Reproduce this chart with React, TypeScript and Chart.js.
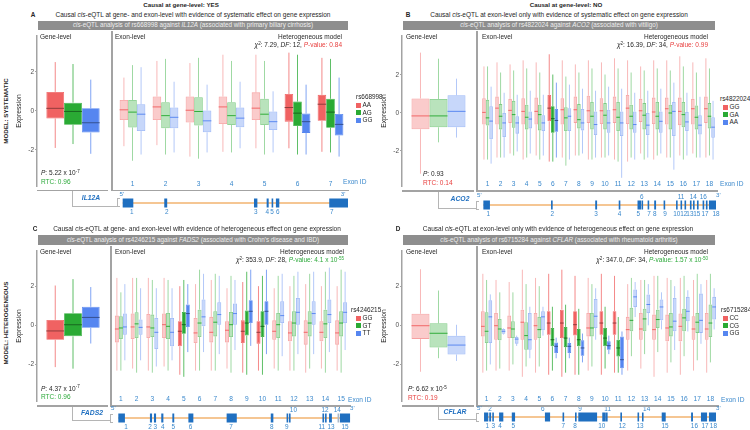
import React, { useEffect, useRef } from "react";
import { Chart, registerables } from "chart.js";
Chart.register(...registerables);

const FONT = '"Liberation Sans", Arial, Helvetica, sans-serif';
Chart.defaults.font.family = FONT;

// ---------------- DATA ----------------
// five-number summaries per box: [whiskerLow, q1, median, q3, whiskerHigh]
const Y_TICKS = [-2, 0, 2];

const A_GENOTYPES = ["AA", "AG", "GG"];
const A_EXONS = ["1", "2", "3", "4", "5", "6", "7"];
const A_SIG_EXONS = ["6", "7"];
const A_GENE = [
  [-1.9, -0.39, 0.13, 0.97, 2.5],
  [-1.7, -0.71, -0.03, 0.42, 2.4],
  [-2.2, -1.11, -0.61, 0.13, 1.6],
];
const A_EXON_AA = [
  [-1.7, -0.44, 0.05, 0.52, 1.6], [-1.65, -0.44, 0.19, 0.69, 2.4], [-2.2, -0.56, 0.03, 0.69, 2.3],
  [-1.97, -0.63, 0.19, 0.69, 2.7], [-1.8, -0.44, 0.13, 0.89, 2.7], [-1.8, -0.52, 0.16, 0.81, 2.8],
  [-1.97, -0.48, 0.32, 0.77, 2.55],
];
const A_EXON_AG = [
  [-2.4, -0.8, -0.06, 0.52, 2.2], [-2.1, -0.84, -0.23, 0.42, 2.5], [-2.3, -0.71, -0.03, 0.66, 2.55],
  [-2.0, -0.68, -0.23, 0.42, 2.4], [-2.1, -0.68, -0.16, 0.58, 2.4], [-2.1, -0.73, -0.11, 0.45, 2.7],
  [-2.0, -0.81, -0.06, 0.58, 2.5],
];
const A_EXON_GG = [
  [-2.1, -0.97, -0.16, 0.32, 2.1], [-2.0, -0.84, -0.31, 0.16, 1.4], [-2.0, -1.03, -0.48, 0.02, 1.26],
  [-1.8, -0.79, -0.35, 0.16, 1.4], [-2.0, -0.92, -0.52, -0.03, 0.94], [-2.1, -1.06, -0.52, -0.13, 1.26],
  [-2.2, -1.19, -0.65, -0.15, 1.6],
];

const B_GENOTYPES = ["GG", "GA", "AA"];
const B_EXONS = ["1", "2", "3", "4", "5", "6", "7", "8", "9", "10", "11", "12", "13", "14", "15", "16", "17", "18"];
const B_SIG_EXONS = ["6"];
const B_GENE = [
  [-3.2, -0.86, -0.16, 0.76, 3.17],
  [-1.55, -0.76, -0.16, 0.73, 2.85],
  [-1.3, -0.76, 0.08, 0.93, 1.8],
];
const B_EXON_GG = [
  [-2.3, -0.57, 0.03, 0.73, 2.3], [-2.2, -0.57, 0.24, 0.81, 2.5], [-2.0, -0.49, 0.13, 0.7, 2.4],
  [-2.3, -0.57, 0.08, 0.73, 2.6], [-2.1, -0.57, 0.08, 0.76, 2.5], [-2.4, -0.41, 0.24, 0.89, 2.9],
  [-2.2, -0.57, 0.16, 0.73, 2.6], [-2.1, -0.49, 0.16, 0.81, 2.4], [-2.3, -0.49, 0.11, 0.85, 2.6],
  [-2.2, -0.54, 0.11, 0.73, 2.5], [-2.3, -0.49, 0.16, 0.81, 2.7], [-2.4, -0.54, 0.24, 0.89, 2.6],
  [-2.0, -0.44, 0.11, 0.7, 2.3], [-2.3, -0.54, 0.05, 0.76, 2.6], [-2.2, -0.57, 0.21, 0.76, 2.6],
  [-2.1, -0.6, 0.08, 0.76, 2.8], [-2.0, -0.57, 0.21, 0.7, 2.5], [-2.2, -0.49, 0.21, 0.81, 2.7],
];
const B_EXON_GA = [
  [-2.3, -0.62, -0.24, 0.65, 2.3], [-2.2, -0.81, -0.16, 0.44, 2.0], [-2.1, -0.73, -0.08, 0.6, 2.1],
  [-2.2, -0.81, -0.21, 0.41, 2.2], [-2.3, -0.86, -0.08, 0.41, 2.0], [-2.4, -0.98, -0.28, 0.33, 1.9],
  [-2.6, -0.89, -0.24, 0.29, 1.8], [-2.1, -0.76, -0.33, 0.44, 2.0], [-2.3, -0.81, -0.16, 0.54, 2.2],
  [-2.2, -0.81, -0.11, 0.49, 1.9], [-2.4, -0.89, -0.21, 0.54, 2.2], [-2.2, -0.81, -0.16, 0.41, 2.0],
  [-2.3, -0.81, -0.11, 0.49, 2.1], [-2.1, -0.81, -0.16, 0.54, 2.2], [-2.2, -0.81, 0.0, 0.41, 2.1],
  [-2.3, -0.7, -0.08, 0.54, 2.3], [-2.2, -0.81, -0.21, 0.37, 2.0], [-2.1, -0.76, -0.16, 0.49, 2.2],
];
const B_EXON_AA = [
  [-2.5, -1.3, -0.4, 0.33, 1.3], [-2.2, -1.19, -0.49, 0.0, 1.0], [-1.9, -1.02, -0.49, -0.16, 0.9],
  [-2.0, -0.76, -0.3, 0.08, 1.1], [-2.1, -0.89, -0.49, -0.11, 0.9], [-2.2, -0.93, -0.37, 0.2, 1.5],
  [-2.3, -0.89, -0.16, 0.24, 1.4], [-2.0, -0.86, -0.49, 0.2, 1.2], [-2.2, -1.09, -0.57, 0.08, 1.1],
  [-2.1, -0.98, -0.49, 0.16, 1.3], [-3.2, -1.14, -0.49, 0.08, 1.2], [-2.3, -0.98, -0.57, 0.08, 1.0],
  [-2.2, -1.09, -0.6, 0.0, 1.1], [-2.0, -0.98, -0.41, 0.08, 1.2], [-2.8, -1.14, 0.08, 0.54, 1.5],
  [-2.1, -0.89, -0.44, 0.05, 1.0], [-2.2, -1.06, -0.6, -0.11, 0.8], [-2.3, -1.22, -0.7, -0.21, 0.6],
];

const C_GENOTYPES = ["GG", "GT", "TT"];
const C_EXONS = ["1", "2", "3", "4", "5", "6", "7", "8", "9", "10", "11", "12", "13", "14", "15"];
const C_SIG_EXONS = ["5", "9", "10"];
const C_GENE = [
  [-2.16, -0.75, -0.29, 0.28, 2.06],
  [-2.24, -0.57, 0.03, 0.63, 2.39],
  [-0.94, -0.13, 0.41, 0.96, 1.98],
];
const C_EXON_GG = [
  [-2.2, -0.83, -0.18, 0.47, 2.3], [-2.1, -0.67, -0.08, 0.57, 2.3], [-2.2, -0.62, -0.08, 0.55, 2.3],
  [-2.0, -0.62, 0.03, 0.57, 2.3], [-2.4, -1.02, -0.29, 0.2, 1.9], [-2.2, -0.86, -0.37, 0.36, 2.0],
  [-2.2, -0.83, -0.34, 0.41, 2.2], [-2.1, -0.83, -0.24, 0.2, 1.8], [-2.3, -0.86, -0.29, 0.24, 2.1],
  [-2.2, -0.89, -0.34, 0.2, 1.9], [-2.1, -0.7, -0.29, 0.24, 1.8], [-2.2, -0.78, -0.37, 0.2, 1.9],
  [-2.3, -0.94, -0.34, 0.24, 2.0], [-2.1, -0.78, -0.34, 0.2, 1.9], [-2.2, -0.94, -0.37, 0.24, 1.9],
];
const C_EXON_GT = [
  [-2.2, -0.67, -0.13, 0.44, 1.6], [-2.3, -0.62, 0.07, 0.63, 2.3], [-2.3, -0.57, -0.13, 0.52, 2.2],
  [-2.2, -0.67, -0.05, 0.6, 2.2], [-2.5, -0.41, 0.03, 0.65, 2.2], [-2.2, -0.57, 0.11, 0.76, 2.7],
  [-2.2, -0.54, 0.15, 0.68, 2.5], [-2.3, -0.57, 0.03, 0.65, 2.4], [-2.4, -0.5, 0.11, 0.72, 2.6],
  [-2.4, -0.57, -0.05, 0.68, 2.4], [-2.2, -0.62, 0.03, 0.6, 2.4], [-2.2, -0.54, 0.11, 0.68, 2.4],
  [-2.1, -0.54, 0.11, 0.68, 2.5], [-2.3, -0.62, 0.07, 0.76, 2.6], [-2.3, -0.54, 0.11, 0.68, 2.7],
];
const C_EXON_TT = [
  [-1.7, -0.46, -0.08, 0.57, 2.0], [-1.7, -0.46, -0.1, 0.28, 1.8], [-2.0, -1.15, -0.34, 0.36, 1.8],
  [-1.7, -1.02, -0.34, 0.36, 1.8], [-1.3, -0.08, 0.57, 1.01, 2.0], [-1.3, -0.05, 0.41, 1.25, 2.5],
  [-1.4, 0.03, 0.52, 1.12, 2.4], [-1.2, 0.03, 0.57, 1.06, 2.2], [-1.0, 0.11, 0.68, 1.22, 2.7],
  [-1.4, 0.03, 0.68, 1.17, 2.7], [-1.5, 0.11, 0.47, 1.17, 2.5], [-1.4, 0.03, 0.63, 1.33, 2.6],
  [-1.4, 0.03, 0.57, 1.17, 2.6], [-1.3, 0.11, 0.52, 1.25, 2.8], [-1.2, 0.11, 0.63, 1.12, 2.6],
];

const D_GENOTYPES = ["CC", "CG", "GG"];
const D_EXONS = ["1", "2", "3", "4", "5", "6", "7", "8", "9", "10", "11", "12", "13", "14", "15", "16", "17", "18"];
const D_SIG_EXONS = ["6", "7", "8", "10", "11"];
const D_GENE = [
  [-2.4, -0.7, -0.02, 0.6, 2.9],
  [-1.7, -1.15, -0.41, 0.11, 1.8],
  [-1.84, -1.51, -1.02, -0.54, 0.03],
];
const D_EXON_CC = [
  [-2.3, -0.54, -0.05, 0.68, 2.5], [-2.2, -0.7, -0.02, 0.6, 2.2], [-2.2, -0.62, -0.13, 0.47, 2.1],
  [-2.5, -0.7, 0.15, 0.76, 2.7], [-2.3, -0.7, -0.02, 0.6, 2.3], [-2.4, -0.46, 0.11, 0.68, 2.5],
  [-2.5, -0.62, 0.11, 0.76, 2.7], [-2.4, -0.5, 0.03, 0.68, 2.4], [-2.2, -0.54, -0.13, 0.6, 2.3],
  [-2.4, -0.46, 0.11, 0.68, 2.5], [-2.3, -0.46, 0.11, 0.68, 2.4], [-2.2, -0.7, -0.21, 0.41, 2.0],
  [-2.1, -0.7, -0.18, 0.6, 2.2], [-2.5, -0.7, -0.21, 0.52, 2.4], [-2.3, -0.78, -0.13, 0.52, 2.3],
  [-2.4, -0.78, -0.05, 0.57, 2.3], [-2.2, -0.7, -0.18, 0.44, 2.2], [-2.3, -0.7, -0.18, 0.6, 2.2],
];
const D_EXON_CG = [
  [-2.2, -0.86, -0.29, 0.63, 2.2], [-2.1, -0.73, -0.18, 0.31, 1.6], [-1.9, -0.62, -0.18, 0.2, 1.6],
  [-2.0, -1.19, -0.5, 0.15, 2.0], [-2.0, -0.62, -0.21, 0.41, 1.9], [-2.2, -1.02, -0.7, -0.13, 0.9],
  [-2.3, -1.06, -0.62, -0.08, 1.0], [-2.4, -1.02, -0.7, -0.18, 0.8], [-2.0, -0.54, -0.13, 0.6, 2.0],
  [-2.1, -1.02, -0.62, -0.13, 0.9], [-2.3, -1.51, -1.1, -0.7, 0.4], [-1.5, -0.29, 0.24, 0.85, 2.3],
  [-1.4, -0.29, 0.31, 0.8, 2.2], [-1.3, -0.13, 0.28, 0.76, 2.4], [-1.8, -0.54, -0.08, 0.6, 2.2],
  [-1.5, -0.29, 0.36, 0.8, 2.4], [-1.7, -0.37, 0.15, 0.6, 2.5], [-1.8, -0.57, 0.11, 1.01, 2.5],
];
const D_EXON_GG = [
  [-1.9, -0.86, 0.41, 1.22, 1.5], [-0.45, -0.41, -0.29, -0.18, -0.15], [-1.0, -0.89, -0.67, -0.57, -0.5],
  [-1.6, -1.19, -0.7, 0.6, 0.9], [-0.5, -0.24, 0.41, 0.68, 0.9], [-1.6, -1.35, -1.02, -0.83, -0.6],
  [-1.6, -1.35, -1.02, -0.86, -0.6], [-1.8, -1.48, -1.1, -0.73, -0.4], [-0.7, -0.13, 0.44, 1.28, 1.8],
  [-1.4, -1.19, -0.99, -0.78, -0.5], [-2.4, -2.08, -1.67, -0.54, -0.3], [0.4, 0.89, 1.38, 1.74, 2.1],
  [0.0, 0.6, 1.01, 1.5, 2.0], [-0.2, 0.24, 0.89, 1.25, 1.6], [-1.2, -0.29, 0.2, 1.33, 1.9],
  [-0.3, 0.2, 0.68, 1.38, 1.7], [-0.9, -0.37, 0.24, 1.54, 2.0], [-0.2, 0.28, 0.89, 1.38, 1.8],
];

// gene structures (relative genomic position, 0-100 along the gene)
const IL12A_START = [0.3, 18.7, 58.4, 64.0, 66.2, 68.1, 91.7];
const IL12A_END = [5.0, 20.0, 59.9, 64.9, 66.9, 69.6, 100];
const IL12A_LABEL_POS = [4.3, 19.8, 59.2, 64.3, 66.4, 68.9, 92.8];
const IL12A_LABEL_ABOVE: number[] = [];

const ACO2_START = [1.0, 29.8, 48.6, 58.6, 66.6, 68.3, 70.9, 73.7, 77.7, 83.0, 84.9, 86.6, 88.9, 90.2, 91.9, 94.3, 95.7, 97.0];
const ACO2_END = [3.8, 30.5, 49.4, 59.3, 68.1, 68.9, 71.5, 74.5, 78.3, 83.6, 85.5, 87.2, 89.6, 90.9, 92.6, 94.9, 96.4, 100];
const ACO2_LABEL_POS = [3.1, 30.3, 48.9, 58.9, 66.9, 68.4, 71.5, 74.0, 78.3, 83.3, 85.1, 86.3, 88.9, 90.3, 91.8, 94.6, 95.3, 100];
const ACO2_LABEL_ABOVE = [6, 11, 14, 16];

const FADS2_START = [1.4, 14.8, 16.5, 19.6, 24.3, 31.1, 47.3, 66.0, 72.7, 73.7, 87.9, 89.0, 90.7, 94.3, 95.3];
const FADS2_END = [4.2, 15.7, 17.4, 20.5, 25.1, 33.2, 51.6, 67.1, 73.3, 74.4, 88.6, 89.6, 91.9, 94.9, 99.6];
const FADS2_LABEL_POS = [4.7, 14.8, 17.1, 20.2, 24.7, 32.0, 49.2, 66.4, 72.8, 75.6, 87.6, 89.0, 91.5, 94.2, 97.5];
const FADS2_LABEL_ABOVE = [10, 12, 14];
const FADS2_GRAY = [14];

const CFLAR_START = [1.3, 3.5, 4.8, 7.7, 13.1, 27.2, 34.7, 40.0, 41.4, 51.6, 53.2, 59.3, 66.6, 68.5, 76.9, 89.4, 93.6, 97.0];
const CFLAR_END = [3.1, 4.3, 5.4, 9.5, 14.5, 29.4, 35.3, 40.7, 49.4, 53.1, 53.8, 60.0, 67.2, 69.1, 78.6, 90.2, 96.2, 100];
const CFLAR_LABEL_POS = [2.7, 3.8, 5.2, 8.1, 13.7, 26.3, 35.0, 40.0, 42.1, 51.4, 53.9, 60.1, 67.7, 70.5, 78.3, 90.8, 95.3, 98.9];
const CFLAR_LABEL_ABOVE = [2, 6, 9, 11, 14];

// ---------------- STYLE ----------------
const GENO_RGB = [
  [240, 98, 98],
  [42, 170, 52],
  [86, 134, 240],
];
const rgba = (c: number[], a: number) => `rgba(${c[0]},${c[1]},${c[2]},${a})`;
const dark = (c: number[]) => `rgb(${Math.round(c[0] * 0.6)},${Math.round(c[1] * 0.6)},${Math.round(c[2] * 0.6)})`;
const SOLID = GENO_RGB.map((c) => rgba(c, 1));
const EXON_BLUE = "#1f6fc0";
const LABEL_BLUE = "#3a88cc";
const AXIS_GRAY = "#a3a3a3";
const TXT = "#262626";
const RED_TXT = "#e8403f";
const GREEN_TXT = "#2eaa3c";

function boxDatasets(stats: number[][][], sig: boolean[]) {
  return stats.map((arr, g) => {
    const c = GENO_RGB[g];
    return {
      label: String(g),
      data: arr.map((s) => [s[1], s[3]]),
      stats: arr,
      backgroundColor: arr.map((_, i) => (sig[i] ? rgba(c, 1) : rgba(c, 0.33))),
      borderColor: arr.map((_, i) => (sig[i] ? rgba(c, 1) : rgba(c, 0.6))),
      borderWidth: 0.8,
      borderSkipped: false,
      whiskerColor: arr.map((_, i) => (sig[i] ? rgba(c, 0.75) : rgba(c, 0.45))),
      medianColor: arr.map((_, i) => (sig[i] ? dark(c) : rgba(c, 0.95))),
    };
  });
}

const boxExtras = {
  id: "boxExtras",
  beforeDatasetsDraw(chart: any) {
    const ctx = chart.ctx;
    const ys = chart.scales.y;
    chart.data.datasets.forEach((ds: any, di: number) => {
      const meta = chart.getDatasetMeta(di);
      meta.data.forEach((el: any, i: number) => {
        const s = ds.stats[i];
        ctx.save();
        ctx.strokeStyle = ds.whiskerColor[i];
        ctx.lineWidth = 1;
        ctx.beginPath();
        ctx.moveTo(el.x, ys.getPixelForValue(s[4]));
        ctx.lineTo(el.x, ys.getPixelForValue(s[3]));
        ctx.moveTo(el.x, ys.getPixelForValue(s[1]));
        ctx.lineTo(el.x, ys.getPixelForValue(s[0]));
        ctx.stroke();
        ctx.restore();
      });
    });
  },
  afterDatasetsDraw(chart: any) {
    const ctx = chart.ctx;
    const ys = chart.scales.y;
    chart.data.datasets.forEach((ds: any, di: number) => {
      const meta = chart.getDatasetMeta(di);
      meta.data.forEach((el: any, i: number) => {
        const y = ys.getPixelForValue(ds.stats[i][2]);
        ctx.save();
        ctx.strokeStyle = ds.medianColor[i];
        ctx.lineWidth = 1;
        ctx.beginPath();
        ctx.moveTo(el.x - el.width / 2, y);
        ctx.lineTo(el.x + el.width / 2, y);
        ctx.stroke();
        ctx.restore();
      });
    });
  },
};

function makeGenePlugin(g: any) {
  return {
    id: "geneStruct",
    afterDraw(chart: any) {
      const ctx = chart.ctx;
      const xs = chart.scales.x;
      const ys = chart.scales.y;
      const cy = ys.getPixelForValue(0);
      ctx.save();
      ctx.strokeStyle = "#f2b36f";
      ctx.lineWidth = 1.6;
      ctx.beginPath();
      ctx.moveTo(xs.getPixelForValue(g.start[0]), cy);
      ctx.lineTo(xs.getPixelForValue(g.end[g.end.length - 1]), cy);
      ctx.stroke();
      g.start.forEach((s: number, i: number) => {
        const x0 = xs.getPixelForValue(s);
        const x1 = xs.getPixelForValue(g.end[i]);
        ctx.fillStyle = (g.gray || []).includes(i + 1) ? "#a9b8c8" : EXON_BLUE;
        ctx.fillRect(x0, cy - 4.5, Math.max(1.6, x1 - x0), 9);
      });
      ctx.fillStyle = LABEL_BLUE;
      ctx.font = `6.4px ${FONT}`;
      ctx.textAlign = "center";
      ctx.textBaseline = "middle";
      g.labelPos.forEach((p: number, i: number) => {
        const above = g.above.includes(i + 1);
        ctx.fillText(String(i + 1), xs.getPixelForValue(p), above ? cy - 8 : cy + 9);
      });
      ctx.restore();
    },
  };
}

// ---------------- PANELS ----------------
const toSig = (exons: string[], sig: string[]) => exons.map((e) => sig.includes(e));

const PANELS = [
  {
    gene: A_GENE, geneSig: true, exons: A_EXONS, exonStats: [A_EXON_AA, A_EXON_AG, A_EXON_GG], sig: toSig(A_EXONS, A_SIG_EXONS),
    struct: { start: IL12A_START, end: IL12A_END, labelPos: IL12A_LABEL_POS, above: IL12A_LABEL_ABOVE },
    L: { geneL: 37, geneR: 109, exonL: 115.6, exonR: 347.4, border: 112, top: 31, bottom: 190.7, zeroY: 110.7, ppu: 20.75, exonCat: 0.78, sx0: 122, sx1: 348, sy: 202.7 },
  },
  {
    gene: B_GENE, geneSig: false, exons: B_EXONS, exonStats: [B_EXON_GG, B_EXON_GA, B_EXON_AA], sig: toSig(B_EXONS, B_SIG_EXONS),
    struct: { start: ACO2_START, end: ACO2_END, labelPos: ACO2_LABEL_POS, above: ACO2_LABEL_ABOVE },
    L: { geneL: 402, geneR: 475, exonL: 480.5, exonR: 716, border: 477, top: 31, bottom: 191, zeroY: 113, ppu: 20.25, exonCat: 0.82, sx0: 481, sx1: 716, sy: 205 },
  },
  {
    gene: C_GENE, geneSig: true, exons: C_EXONS, exonStats: [C_EXON_GG, C_EXON_GT, C_EXON_TT], sig: toSig(C_EXONS, C_SIG_EXONS),
    struct: { start: FADS2_START, end: FADS2_END, labelPos: FADS2_LABEL_POS, above: FADS2_LABEL_ABOVE, gray: FADS2_GRAY },
    L: { geneL: 37, geneR: 109, exonL: 113, exonR: 349, border: 111, top: 246, bottom: 406, zeroY: 325.3, ppu: 20.6, exonCat: 0.76, sx0: 115, sx1: 351, sy: 418.3 },
  },
  {
    gene: D_GENE, geneSig: false, exons: D_EXONS, exonStats: [D_EXON_CC, D_EXON_CG, D_EXON_GG], sig: toSig(D_EXONS, D_SIG_EXONS),
    struct: { start: CFLAR_START, end: CFLAR_END, labelPos: CFLAR_LABEL_POS, above: CFLAR_LABEL_ABOVE },
    L: { geneL: 402, geneR: 475, exonL: 480, exonR: 716.5, border: 477, top: 246, bottom: 406, zeroY: 325.3, ppu: 20.6, exonCat: 0.85, sx0: 481, sx1: 716, sy: 417.3 },
  },
];

const Y_AXIS_W = 22;
const X_AXIS_H = 12;

function geneConfig(P: any) {
  const L = P.L;
  return {
    type: "bar",
    data: { labels: ["gene"], datasets: boxDatasets(P.gene.map((s: number[]) => [s]), [P.geneSig]) },
    options: {
      animation: false, responsive: false, maintainAspectRatio: false, devicePixelRatio: 1, events: [],
      layout: { padding: 0 },
      datasets: { bar: { categoryPercentage: 0.74, barPercentage: 1 } },
      plugins: { legend: { display: false }, tooltip: { enabled: false } },
      scales: {
        x: { display: false },
        y: {
          min: (L.zeroY - L.bottom) / L.ppu,
          max: (L.zeroY - L.top) / L.ppu,
          afterBuildTicks: (s: any) => { s.ticks = Y_TICKS.map((v) => ({ value: v })); },
          afterFit: (s: any) => { s.width = Y_AXIS_W; },
          ticks: { font: { size: 6.5 }, color: "#4d4d4d", padding: 1 },
          grid: { display: true, drawOnChartArea: false, drawTicks: true, tickLength: 2, color: AXIS_GRAY },
          border: { display: true, color: AXIS_GRAY, width: 1.5 },
          title: { display: true, text: "Expression", font: { size: 6.8 }, color: TXT, padding: 0 },
        },
      },
    },
    plugins: [boxExtras],
  };
}

function exonConfig(P: any) {
  const L = P.L;
  return {
    type: "bar",
    data: { labels: P.exons, datasets: boxDatasets(P.exonStats, P.sig) },
    options: {
      animation: false, responsive: false, maintainAspectRatio: false, devicePixelRatio: 1, events: [],
      layout: { padding: 0 },
      datasets: { bar: { categoryPercentage: L.exonCat, barPercentage: 1 } },
      plugins: { legend: { display: false }, tooltip: { enabled: false } },
      scales: {
        x: {
          afterFit: (s: any) => { s.height = X_AXIS_H; },
          ticks: { color: LABEL_BLUE, font: { size: 6.6 }, padding: 1, autoSkip: false, maxRotation: 0 },
          grid: { display: false, drawTicks: false },
          border: { display: false },
        },
        y: {
          display: false,
          min: (L.zeroY - (L.bottom - X_AXIS_H)) / L.ppu,
          max: (L.zeroY - L.top) / L.ppu,
        },
      },
    },
    plugins: [boxExtras],
  };
}

function structConfig(P: any) {
  return {
    type: "scatter",
    data: { datasets: [] },
    options: {
      animation: false, responsive: false, maintainAspectRatio: false, devicePixelRatio: 1, events: [],
      layout: { padding: { left: 8, right: 8, top: 0, bottom: 0 } },
      plugins: { legend: { display: false }, tooltip: { enabled: false } },
      scales: {
        x: { type: "linear", display: false, min: 0, max: 100 },
        y: { type: "linear", display: false, min: -1, max: 1 },
      },
    },
    plugins: [makeGenePlugin(P.struct)],
  };
}

function ChartBox({ left, top, width, height, make }: any) {
  const ref = useRef<HTMLCanvasElement>(null);
  useEffect(() => {
    const chart = new Chart(ref.current as HTMLCanvasElement, make() as any);
    return () => chart.destroy();
  }, []);
  return (
    <canvas
      ref={ref}
      width={width}
      height={height}
      style={{ position: "absolute", left, top, width, height, display: "block" }}
    />
  );
}

// ---------------- HTML helpers ----------------
const Txt = (p: any) => {
  const { x, y, a = "l", s = 6.4, c = TXT, b = false, i = false, rot = 0, children } = p;
  const tx = a === "l" ? "0%" : a === "c" ? "-50%" : "-100%";
  return (
    <div
      style={{
        position: "absolute", left: x, top: y,
        transform: `translate(${tx},-50%)` + (rot ? ` rotate(${rot}deg)` : ""),
        fontSize: s, color: c, fontWeight: b ? 700 : 400, fontStyle: i ? "italic" : "normal",
        whiteSpace: "nowrap", lineHeight: 1,
      }}
    >
      {children}
    </div>
  );
};
const Sup = ({ children }: any) => (
  <span style={{ fontSize: "0.7em", position: "relative", top: "-0.45em" }}>{children}</span>
);
const HLine = ({ x1, x2, y, c = AXIS_GRAY, w = 1.5 }: any) => (
  <div style={{ position: "absolute", left: x1, top: y - w / 2, width: x2 - x1, height: w, background: c }} />
);
const VLine = ({ x, y1, y2, c = AXIS_GRAY, w = 1.5 }: any) => (
  <div style={{ position: "absolute", left: x - w / 2, top: y1, width: w, height: y2 - y1, background: c }} />
);
const GrayBar = ({ x1, x2, y1, y2, children }: any) => (
  <div
    style={{
      position: "absolute", left: x1, top: y1, width: x2 - x1, height: y2 - y1, background: "#8e8e8e",
      color: "#eeeeee", fontSize: 6.3, display: "flex", alignItems: "center", justifyContent: "center",
      whiteSpace: "nowrap", lineHeight: 1,
    }}
  >
    {children}
  </div>
);
const Legend = ({ x, y, sq, title, items }: any) => (
  <>
    <Txt x={x} y={y}>{title}</Txt>
    {items.map((t: string, k: number) => (
      <React.Fragment key={k}>
        <div style={{ position: "absolute", left: sq, top: y + 8 + 7.5 * k - 2.5, width: 5, height: 5, background: SOLID[k] }} />
        <Txt x={sq + 6.5} y={y + 8 + 7.5 * k}>{t}</Txt>
      </React.Fragment>
    ))}
  </>
);

function PanelCharts({ P }: any) {
  const L = P.L;
  const gl = Math.round(L.geneL - Y_AXIS_W);
  const el = Math.round(L.exonL);
  const sl = Math.round(L.sx0 - 8);
  return (
    <>
      <ChartBox left={gl} top={L.top} width={Math.round(L.geneR - gl)} height={Math.round(L.bottom - L.top)} make={() => geneConfig(P)} />
      <ChartBox left={el} top={L.top} width={Math.round(L.exonR - el)} height={Math.round(L.bottom - L.top)} make={() => exonConfig(P)} />
      <ChartBox left={sl} top={Math.round(L.sy - 15)} width={Math.round(L.sx1 - L.sx0 + 16)} height={30} make={() => structConfig(P)} />
      <HLine x1={L.geneL} x2={L.geneR - 1} y={L.bottom} />
      <VLine x={L.border} y1={L.top} y2={L.bottom + 0.75} />
      <HLine x1={L.border} x2={L.exonR + 2} y={L.bottom} />
    </>
  );
}

const Connector = ({ x, y1, y2, x2, sy }: any) => (
  <>
    <VLine x={x} y1={y1} y2={y2} c="#b5b5b5" w={1} />
    <HLine x1={x} x2={x2} y={y2} c="#b5b5b5" w={1} />
    <div style={{ position: "absolute", left: x2, top: sy - 4.5, width: 3, height: 9, border: "1px solid #b5b5b5", borderRight: "none", boxSizing: "border-box" }} />
  </>
);

export default function App() {
  const [A, B, C, D] = PANELS;
  return (
    <div style={{ position: "absolute", left: 0, top: 0, width: 750, height: 430, overflow: "hidden", background: "#fff", fontFamily: FONT }}>
      {PANELS.map((P, k) => <PanelCharts key={k} P={P} />)}

      {/* column titles */}
      <Txt x={181} y={5} a="c" b s={6.2}>Causal at gene-level: YES</Txt>
      <Txt x={566} y={5} a="c" b s={6.2}>Causal at gene-level: NO</Txt>
      <Txt x={6} y={111} a="c" b s={6.2} rot={-90}>MODEL: SYSTEMATIC</Txt>
      <Txt x={6} y={323} a="c" b s={6.2} rot={-90}>MODEL: HETEROGENEOUS</Txt>

      {/* panel letters + subtitles */}
      <Txt x={33} y={15} a="c" b s={6.4}>A</Txt>
      <Txt x={193} y={15} a="c" s={6.5}>Causal <i>cis</i>-eQTL at gene- and exon-level with evidence of systematic effect on gene expression</Txt>
      <Txt x={408} y={15} a="c" b s={6.4}>B</Txt>
      <Txt x={559} y={15} a="c" s={6.5}>Causal <i>cis</i>-eQTL at exon-level only with evidence of systematic effect on gene expression</Txt>
      <Txt x={35} y={229} a="c" b s={6.4}>C</Txt>
      <Txt x={197} y={229} a="c" s={6.5}>Causal <i>cis</i>-eQTL at gene- and exon-level with evidence of heterogeneous effect on gene expression</Txt>
      <Txt x={398} y={229} a="c" b s={6.4}>D</Txt>
      <Txt x={558} y={229} a="c" s={6.5}>Causal <i>cis</i>-eQTL at exon-level only with evidence of heterogeneous effect on gene expression</Txt>

      {/* gray headers */}
      <GrayBar x1={38} x2={348} y1={21} y2={30}><i>cis</i>-eQTL analysis of rs668998 against&nbsp;<i>IL12A</i>&nbsp;(associated with primary biliary cirrhosis)</GrayBar>
      <GrayBar x1={403} x2={715} y1={21} y2={30}><i>cis</i>-eQTL analysis of rs4822024 against&nbsp;<i>ACO2</i>&nbsp;(associated with vitiligo)</GrayBar>
      <GrayBar x1={38} x2={348} y1={235} y2={245}><i>cis</i>-eQTL analysis of rs4246215 against&nbsp;<i>FADS2</i>&nbsp;(associated with Crohn's disease and IBD)</GrayBar>
      <GrayBar x1={403} x2={715} y1={235} y2={245}><i>cis</i>-eQTL analysis of rs6715284 against&nbsp;<i>CFLAR</i>&nbsp;(associated with rheumatoid arthritis)</GrayBar>

      {/* facet labels */}
      <Txt x={40} y={37} s={6.5}>Gene-level</Txt>
      <Txt x={115} y={37} s={6.5}>Exon-level</Txt>
      <Txt x={406} y={37} s={6.5}>Gene-level</Txt>
      <Txt x={482} y={37} s={6.5}>Exon-level</Txt>
      <Txt x={40} y={252} s={6.5}>Gene-level</Txt>
      <Txt x={115} y={252} s={6.5}>Exon-level</Txt>
      <Txt x={406} y={252} s={6.5}>Gene-level</Txt>
      <Txt x={482} y={252} s={6.5}>Exon-level</Txt>

      {/* heterogeneous model */}
      <Txt x={342} y={37} a="r" s={6.5}>Heterogeneous model</Txt>
      <Txt x={342} y={45} a="r" s={6.5}><i>χ</i><Sup>2</Sup>: 7.29, <i>DF</i>: 12, <span style={{ color: RED_TXT }}><i>P</i>-value: 0.84</span></Txt>
      <Txt x={708} y={37} a="r" s={6.5}>Heterogeneous model</Txt>
      <Txt x={708} y={45} a="r" s={6.5}><i>χ</i><Sup>2</Sup>: 16.39, <i>DF</i>: 34, <span style={{ color: RED_TXT }}><i>P</i>-value: 0.99</span></Txt>
      <Txt x={344} y={252} a="r" s={6.5}>Heterogeneous model</Txt>
      <Txt x={344} y={260} a="r" s={6.5}><i>χ</i><Sup>2</Sup>: 353.9, <i>DF</i>: 28, <span style={{ color: GREEN_TXT }}><i>P</i>-value: 4.1 x 10<Sup>-55</Sup></span></Txt>
      <Txt x={708} y={252} a="r" s={6.5}>Heterogeneous model</Txt>
      <Txt x={708} y={260} a="r" s={6.5}><i>χ</i><Sup>2</Sup>: 347.0, <i>DF</i>: 34, <span style={{ color: GREEN_TXT }}><i>P</i>-value: 1.57 x 10<Sup>-50</Sup></span></Txt>

      {/* P / RTC */}
      <Txt x={41} y={173} s={6.5}><i>P</i>: 5.22 x 10<Sup>-7</Sup></Txt>
      <Txt x={41} y={181.5} s={6.5} c={GREEN_TXT}>RTC: 0.96</Txt>
      <Txt x={423} y={174} s={6.5}><i>P</i>: 0.93</Txt>
      <Txt x={423} y={182.5} s={6.5} c={RED_TXT}>RTC: 0.14</Txt>
      <Txt x={41} y={388.5} s={6.5}><i>P</i>: 4.37 x 10<Sup>-7</Sup></Txt>
      <Txt x={41} y={397} s={6.5} c={GREEN_TXT}>RTC: 0.96</Txt>
      <Txt x={408} y={389} s={6.5}><i>P</i>: 6.62 x 10<Sup>-5</Sup></Txt>
      <Txt x={408} y={397.5} s={6.5} c={RED_TXT}>RTC: 0.19</Txt>

      {/* legends */}
      <Legend x={356} y={97} sq={356} title="rs668998" items={A_GENOTYPES} />
      <Legend x={720} y={99} sq={723} title="rs4822024" items={B_GENOTYPES} />
      <Legend x={351} y={310} sq={356} title="rs4246215" items={C_GENOTYPES} />
      <Legend x={721} y={310} sq={723} title="rs6715284" items={D_GENOTYPES} />

      {/* exon id */}
      <Txt x={343} y={182} s={6.6} c={LABEL_BLUE}>Exon ID</Txt>
      <Txt x={720} y={184} s={6.6} c={LABEL_BLUE}>Exon ID</Txt>
      <Txt x={348} y={400} s={6.6} c={LABEL_BLUE}>Exon ID</Txt>
      <Txt x={721} y={400} s={6.6} c={LABEL_BLUE}>Exon ID</Txt>

      {/* connectors + gene names + 5'/3' */}
      <Connector x={72} y1={191} y2={206} x2={117} sy={A.L.sy} />
      <Connector x={438} y1={191.5} y2={208} x2={476} sy={B.L.sy} />
      <Connector x={72} y1={406.5} y2={420} x2={110} sy={C.L.sy} />
      <Connector x={438} y1={406.5} y2={419} x2={476} sy={D.L.sy} />
      <Txt x={91} y={198} a="c" b i s={6.8} c={EXON_BLUE}>IL12A</Txt>
      <Txt x={460} y={199} a="c" b i s={6.8} c={EXON_BLUE}>ACO2</Txt>
      <Txt x={92} y={412.5} a="c" b i s={6.8} c={EXON_BLUE}>FADS2</Txt>
      <Txt x={455} y={411.5} a="c" b i s={6.8} c={EXON_BLUE}>CFLAR</Txt>
      <Txt x={121.7} y={194} a="c" s={6.2} c={LABEL_BLUE}>5'</Txt>
      <Txt x={343} y={194} a="c" s={6.2} c={LABEL_BLUE}>3'</Txt>
      <Txt x={479.3} y={195} a="c" s={6.2} c={LABEL_BLUE}>5'</Txt>
      <Txt x={718.3} y={195} a="c" s={6.2} c={LABEL_BLUE}>3'</Txt>
      <Txt x={113.3} y={408.3} a="c" s={6.2} c={LABEL_BLUE}>5'</Txt>
      <Txt x={352.3} y={408} a="c" s={6.2} c={LABEL_BLUE}>3'</Txt>
      <Txt x={479.3} y={407.7} a="c" s={6.2} c={LABEL_BLUE}>5'</Txt>
      <Txt x={718.3} y={407.7} a="c" s={6.2} c={LABEL_BLUE}>3'</Txt>
    </div>
  );
}
